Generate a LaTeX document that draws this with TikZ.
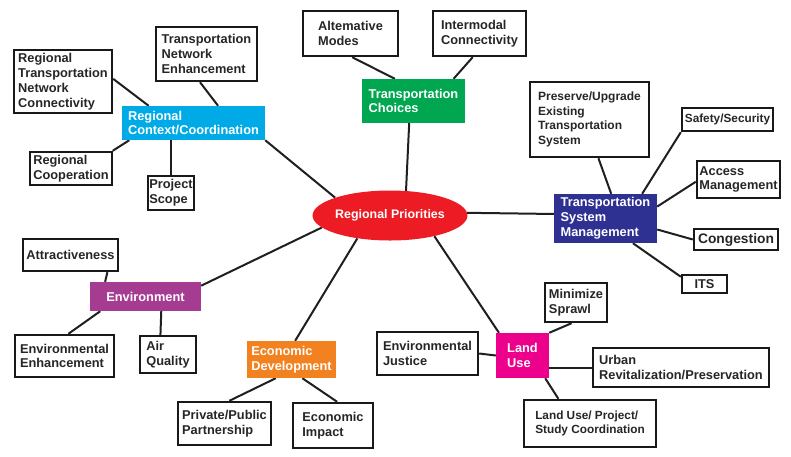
\documentclass[tikz,border=0pt]{standalone}
\usepackage{fontspec}
\setmainfont{Liberation Sans}
\usetikzlibrary{shapes.geometric,backgrounds}
\definecolor{cCyan}{RGB}{0,170,230}
\definecolor{cGreen}{RGB}{0,166,80}
\definecolor{cNavy}{RGB}{46,49,146}
\definecolor{cPurple}{RGB}{166,60,145}
\definecolor{cOrange}{RGB}{242,130,32}
\definecolor{cMagenta}{RGB}{236,0,140}
\definecolor{cRed}{RGB}{237,28,36}
\begin{document}
\begin{tikzpicture}[x=1pt,y=-1pt,
  leaf/.style={draw=black!90, line width=2.4pt, fill=white, text=black!85,
    font=\bfseries\fontsize{12.8}{14.8}\selectfont, align=left, inner sep=0pt},
  hub/.style={fill=#1, text=white,
    font=\bfseries\fontsize{12.8}{14.8}\selectfont, align=left, inner sep=0pt},
  link/.style={draw=black!88, line width=2pt}]
\useasboundingbox (0,0) rectangle (791,456);

% central ellipse
\node[ellipse, fill=cRed, text=white, font=\bfseries\fontsize{12.4}{14}\selectfont,
  minimum width=153pt, minimum height=50pt, inner sep=0pt] (rp) at (390,215.5) {Regional Priorities};

% Regional Context/Coordination
\node[hub=cCyan, minimum width=143pt, minimum height=34pt] (rcc) at (193.5,123) {Regional\\Context/Coordination};
\node[leaf, minimum width=98pt, minimum height=63pt] (rtnc) at (63,81.5) {Regional\\Transportation\\Network\\Connectivity};
\node[leaf, minimum width=101pt, minimum height=54pt] (tne) at (206.5,54) {Transportation\\Network\\Enhancement};
\node[leaf, minimum width=82pt, minimum height=33pt] (rc) at (71,168.5) {Regional\\Cooperation};
\node[leaf, minimum width=46pt, minimum height=34pt] (ps) at (171,193) {Project\\Scope};

% Transportation Choices
\node[hub=cGreen, minimum width=103pt, minimum height=44pt] (tc) at (413.5,101) {Transportation\\Choices};
\node[leaf, minimum width=95pt, minimum height=45pt] (am) at (350.5,33.5) {Altemative\\Modes};
\node[leaf, minimum width=93pt, minimum height=45pt] (ic) at (479.5,33.5) {Intermodal\\Connectivity};

% Transportation System Management
\node[hub=cNavy, minimum width=103pt, minimum height=49pt] (tsm) at (605.5,218.5) {Transportation\\System\\Management};
\node[leaf, font=\bfseries\fontsize{12}{14.5}\selectfont, minimum width=119pt, minimum height=75pt] (pre) at (589.5,119.5) {Preserve/Upgrade\\Existing\\Transportation\\System};
\node[leaf, font=\bfseries\fontsize{11.8}{14}\selectfont, minimum width=91pt, minimum height=23pt] (saf) at (727.5,119.5) {Safety/Security};
\node[leaf, minimum width=83pt, minimum height=37pt] (acc) at (738.5,179.5) {Access\\Management};
\node[leaf, font=\bfseries\fontsize{13.8}{15}\selectfont, minimum width=84pt, minimum height=21pt] (con) at (736,239.5) {Congestion};
\node[leaf, minimum width=45pt, minimum height=18pt] (its) at (704.5,284) {ITS};

% Environment
\node[hub=cPurple, minimum width=111pt, minimum height=29pt] (env) at (145.5,296.5) {Environment};
\node[leaf, minimum width=95pt, minimum height=32pt] (attr) at (70.5,255) {Attractiveness};
\node[leaf, minimum width=99pt, minimum height=42pt] (ee) at (64.5,356) {Environmental\\Enhancement};
\node[leaf, minimum width=56pt, minimum height=37pt] (aq) at (168,354.5) {Air\\Quality};

% Economic Development
\node[hub=cOrange, minimum width=89pt, minimum height=37pt] (ed) at (291.5,359.5) {Economic\\Development};
\node[leaf, minimum width=93pt, minimum height=43pt] (ppp) at (224.5,423.5) {Private/Public\\Partnership};
\node[leaf, minimum width=80pt, minimum height=45pt] (ei) at (333,425.5) {Economic\\Impact};

% Land Use
\node[hub=cMagenta, minimum width=53pt, minimum height=45pt] (lu) at (522.5,355.5) {Land\\Use};
\node[leaf, minimum width=62pt, minimum height=39pt] (ms) at (576,302.5) {Minimize\\Sprawl};
\node[leaf, minimum width=101pt, minimum height=43pt] (ej) at (427.5,353.5) {Environmental\\Justice};
\node[leaf, minimum width=176pt, minimum height=39pt] (urp) at (681,367.5) {Urban\\Revitalization/Preservation};
\node[leaf, font=\bfseries\fontsize{11.8}{14.5}\selectfont, minimum width=132pt, minimum height=47pt] (lupsc) at (590,423.5) {Land Use/ Project/\\Study Coordination};

\begin{scope}[on background layer]
% Regional Context
\draw[link] (rtnc.3) -- (rcc.159);
\draw[link] (tne.-103) -- (rcc.35);
\draw[link] (rc.23) -- (rcc.-165);
\draw[link] (ps.north) -- (ps.north |- rcc.south);
\draw[link] (rcc.south east) -- (rp.162);
% Transportation Choices
\draw[link] (am.-86) -- (tc.130);
\draw[link] (ic.-106) -- (tc.29);
\draw[link] (tc.-101) -- (rp.57);
% TSM
\draw[link] (pre.-77) -- (tsm.77);
\draw[link] (saf.south west) -- (tsm.34);
\draw[link] (acc.183) -- (tsm.13);
\draw[link] (con.west) -- (tsm.-12);
\draw[link] (its.163) -- (tsm.-42);
\draw[link] (tsm.175) -- (rp.2);
% Environment
\draw[link] (attr.-25) -- (env.160);
\draw[link] (ee.80) -- (env.198);
\draw[link] (aq.111) -- (env.-43);
\draw[link] (env.11) -- (rp.190);
% Economic Development
\draw[link] (ppp.78) -- (ed.-130);
\draw[link] (ei.80) -- (ed.-60);
\draw[link] (ed.79) -- (rp.215);
% Land Use
\draw[link] (ms.-102) -- (lu.north east);
\draw[link] (ej.east) -- (lu.west);
\draw[link] (urp.west) -- (urp.west -| lu.east);
\draw[link] (lupsc.142) -- (lu.-45);
\draw[link] (lu.136) -- (rp.-25);
\end{scope}
\end{tikzpicture}
\end{document}
